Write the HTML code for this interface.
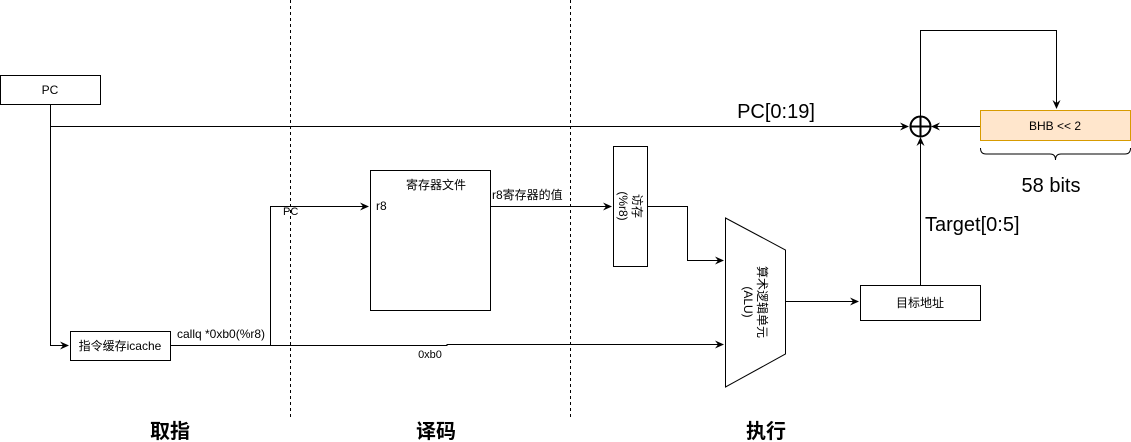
<!DOCTYPE html>
<html><head><meta charset="utf-8"><style>
html,body{margin:0;padding:0;background:#fff;}
svg{display:block;font-family:"Liberation Sans","Noto Sans CJK SC",sans-serif;}
</style></head><body>
<svg width="1131" height="442" viewBox="0 0 1131 442" xmlns="http://www.w3.org/2000/svg">
<defs>
<marker id="a" markerWidth="10" markerHeight="10" refX="8" refY="5" orient="auto" markerUnits="userSpaceOnUse">
<path d="M0,1 L9,5 L0,9 L3,5 Z" fill="#000"/></marker>
</defs>
<g stroke="#000" stroke-width="1" fill="none">
<line x1="290.5" y1="0" x2="290.5" y2="420" stroke-dasharray="3,3"/>
<line x1="570.5" y1="0" x2="570.5" y2="420" stroke-dasharray="3,3"/>
<rect x="0.5" y="75.5" width="100" height="29" fill="#fff"/>
<polyline points="50.5,104 50.5,345.5 68,345.5" marker-end="url(#a)"/>
<line x1="50.5" y1="126.5" x2="908" y2="126.5" marker-end="url(#a)"/>
<rect x="70.5" y="331.5" width="100" height="29" fill="#fff"/>
<polyline points="171,345.5 447,345.5 447,344.5 723,344.5" marker-end="url(#a)"/>
<polyline points="270.5,345.5 270.5,206.5 368,206.5" marker-end="url(#a)"/>
<rect x="370.5" y="170.5" width="120" height="140" fill="#fff"/>
<line x1="490.5" y1="206.5" x2="611" y2="206.5" marker-end="url(#a)"/>
<rect x="613.5" y="146.5" width="34" height="120" fill="#fff"/>
<polyline points="648,206.5 687.5,206.5 687.5,260.5 723,260.5" marker-end="url(#a)"/>
<polygon points="725.5,218 785.5,250 785.5,354 725.5,387" fill="#fff"/>
<line x1="785.5" y1="301.5" x2="858" y2="301.5" marker-end="url(#a)"/>
<rect x="860.5" y="285.5" width="120" height="35" fill="#fff"/>
<line x1="920.5" y1="285" x2="920.5" y2="138" marker-end="url(#a)"/>
<polyline points="920.5,116 920.5,30.5 1056.5,30.5 1056.5,108" marker-end="url(#a)"/>
<rect x="980.5" y="110.5" width="150" height="30" fill="#ffe6cc" stroke="#d79b00"/>
<line x1="980" y1="126.5" x2="932" y2="126.5" marker-end="url(#a)"/>
<path d="M980.5,148 Q980.5,154 986,154 L1050,154 Q1055.5,154 1055.5,160 Q1055.5,154 1061,154 L1125,154 Q1130.5,154 1130.5,148"/>
<circle cx="920.5" cy="126.5" r="10" stroke-width="2"/>
<line x1="910.5" y1="126.5" x2="930.5" y2="126.5" stroke-width="2"/>
<line x1="920.5" y1="116.5" x2="920.5" y2="136.5" stroke-width="2"/>
</g>
<g font-size="12" fill="#000">
<text x="50" y="94" text-anchor="middle">PC</text>
<text x="120" y="350" text-anchor="middle">指令缓存icache</text>
<text x="177" y="338">callq *0xb0(%r8)</text>
<text x="283" y="215" font-size="11">PC</text>
<text x="430" y="358" text-anchor="middle" font-size="11">0xb0</text>
<text x="436" y="189" text-anchor="middle">寄存器文件</text>
<text x="376" y="210">r8</text>
<text x="492" y="199">r8寄存器的值</text>
<text transform="translate(630,206) rotate(90)" text-anchor="middle" y="-3">访存</text>
<text transform="translate(630,206) rotate(90)" text-anchor="middle" y="11">(%r8)</text>
<text transform="translate(755,302) rotate(90)" text-anchor="middle" y="-3">算术逻辑单元</text>
<text transform="translate(755,302) rotate(90)" text-anchor="middle" y="11">(ALU)</text>
<text x="920" y="307" text-anchor="middle">目标地址</text>
<text x="1055" y="130" text-anchor="middle">BHB &lt;&lt; 2</text>
<text x="776" y="118" text-anchor="middle" font-size="20">PC[0:19]</text>
<text x="925" y="231" font-size="20">Target[0:5]</text>
<text x="1051" y="192" text-anchor="middle" font-size="20">58 bits</text>
<text x="170" y="438" text-anchor="middle" font-size="20" font-weight="bold">取指</text>
<text x="436" y="438" text-anchor="middle" font-size="20" font-weight="bold">译码</text>
<text x="766" y="438" text-anchor="middle" font-size="20" font-weight="bold">执行</text>
</g>
</svg>
</body></html>
